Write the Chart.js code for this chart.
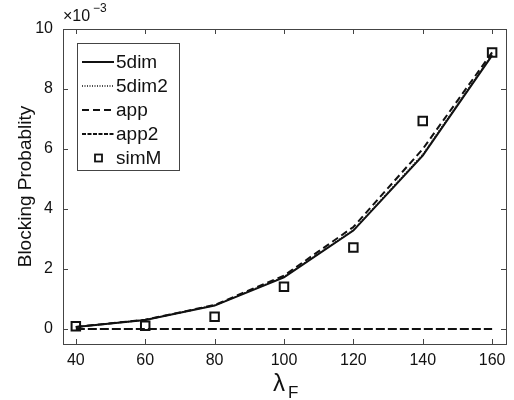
<!DOCTYPE html>
<html>
<head>
<meta charset="utf-8">
<script src="https://cdn.jsdelivr.net/npm/chart.js@4.4.1/dist/chart.umd.min.js"></script>
<style>
  html, body { margin: 0; padding: 0; background: #fff; }
  #wrap { width: 514px; height: 400px; }
</style>
</head>
<body>
<div id="wrap"><canvas id="blockChart"></canvas></div>
<script>
// x values (lambda_F) and blocking probability in units of 1e-3
const lambdaF = [40, 60, 80, 100, 120, 140, 160];
const fiveDim = [0.07, 0.30, 0.78, 1.72, 3.28, 5.78, 9.12];
const fiveDim2 = [0.07, 0.30, 0.79, 1.74, 3.30, 5.82, 9.15];
const app = [0.07, 0.31, 0.80, 1.78, 3.40, 6.00, 9.22];
const app2 = [0, 0, 0, 0, 0, 0, 0];
const simM = [0.09, 0.11, 0.41, 1.41, 2.72, 6.93, 9.22];

const xTicks = [40, 60, 80, 100, 120, 140, 160];
const yTicks = [0, 2, 4, 6, 8, 10];

const FONT = "'Liberation Sans', Arial, sans-serif";
const INK = '#111';

function toPoints(ys) {
  return lambdaF.map((x, i) => ({ x: x, y: ys[i] }));
}

function lineSet(label, ys, dash, width) {
  return {
    label: label,
    data: toPoints(ys),
    borderColor: INK,
    borderWidth: width,
    borderDash: dash,
    pointRadius: 0,
    fill: false,
    tension: 0
  };
}

// ticks inside the frame on all four sides, like the original plot
const insideTicks = {
  id: 'insideTicks',
  afterDatasetsDraw(chart) {
    const { ctx, chartArea: a, scales } = chart;
    const len = 5;
    ctx.save();
    ctx.strokeStyle = '#444';
    ctx.lineWidth = 1;
    ctx.beginPath();
    xTicks.forEach(v => {
      const px = Math.round(scales.x.getPixelForValue(v)) + 0.5;
      ctx.moveTo(px, a.bottom); ctx.lineTo(px, a.bottom - len);
      ctx.moveTo(px, a.top); ctx.lineTo(px, a.top + len);
    });
    yTicks.forEach(v => {
      const py = Math.round(scales.y.getPixelForValue(v)) + 0.5;
      ctx.moveTo(a.left, py); ctx.lineTo(a.left + len, py);
      ctx.moveTo(a.right, py); ctx.lineTo(a.right - len, py);
    });
    ctx.stroke();
    ctx.strokeRect(Math.round(a.left) + 0.5, Math.round(a.top) + 0.5,
      Math.round(a.right - a.left), Math.round(a.bottom - a.top));
    ctx.restore();
  }
};

// axis texts: exponent, lambda_F, legend box
const annotations = {
  id: 'annotations',
  afterDraw(chart) {
    const { ctx, chartArea: a } = chart;
    ctx.save();
    ctx.fillStyle = INK;
    ctx.textBaseline = 'alphabetic';

    // x10^-3
    ctx.font = '16px ' + FONT;
    ctx.textAlign = 'left';
    ctx.fillText('\u00d710', a.left, a.top - 8);
    ctx.font = '12px ' + FONT;
    ctx.fillText('\u22123', a.left + 30, a.top - 17);

    // lambda_F
    ctx.font = '24px ' + FONT;
    ctx.fillText('\u03bb', 273, 391);
    ctx.font = '17px ' + FONT;
    ctx.fillText('F', 288, 398);

    // legend
    const lx = 77, ly = 43, lw = 102, lh = 127;
    ctx.fillStyle = '#fff';
    ctx.fillRect(lx, ly, lw, lh);
    ctx.strokeStyle = '#444';
    ctx.lineWidth = 1;
    ctx.strokeRect(lx + 0.5, ly + 0.5, lw, lh);
    ctx.font = '19px ' + FONT;
    ctx.textBaseline = 'middle';
    chart.data.datasets.forEach((ds, i) => {
      const y = ly + 19 + i * 24;
      ctx.strokeStyle = INK;
      if (ds.showLine === false) {
        ctx.lineWidth = 1.8;
        ctx.setLineDash([]);
        ctx.strokeRect(95, y - 3.5, 7, 7);
      } else {
        ctx.lineWidth = ds.borderWidth;
        ctx.setLineDash(ds.legendDash || ds.borderDash || []);
        ctx.beginPath();
        ctx.moveTo(82, y);
        ctx.lineTo(114, y);
        ctx.stroke();
      }
      ctx.setLineDash([]);
      ctx.fillStyle = INK;
      ctx.fillText(ds.label, 116, y + 1);
    });
    ctx.restore();
  }
};

const app2Set = lineSet('app2', app2, [9, 3], 2);
app2Set.legendDash = [4, 1.5];

new Chart(document.getElementById('blockChart'), {
  type: 'line',
  data: {
    datasets: [
      lineSet('5dim', fiveDim, [], 2),
      lineSet('5dim2', fiveDim2, [1, 1.5], 1.5),
      lineSet('app', app, [7, 4], 2),
      app2Set,
      {
        label: 'simM',
        data: toPoints(simM),
        showLine: false,
        pointStyle: 'rect',
        pointRadius: 6,
        pointBorderWidth: 2,
        pointBorderColor: INK,
        pointBackgroundColor: 'rgba(0,0,0,0)',
        borderColor: INK
      }
    ]
  },
  options: {
    responsive: true,
    maintainAspectRatio: false,
    animation: false,
    layout: { padding: { top: 29, right: 7, bottom: 0, left: 0 } },
    plugins: {
      legend: { display: false },
      tooltip: { enabled: false }
    },
    scales: {
      x: {
        type: 'linear',
        min: 36.3,
        max: 164,
        afterBuildTicks: axis => { axis.ticks = xTicks.map(v => ({ value: v })); },
        afterFit: axis => { axis.height = 56; },
        grid: { display: false, drawTicks: false },
        border: { display: false },
        ticks: {
          color: INK,
          font: { family: FONT, size: 16 },
          padding: 7,
          maxRotation: 0
        }
      },
      y: {
        min: -0.5,
        max: 10,
        afterBuildTicks: axis => { axis.ticks = yTicks.map(v => ({ value: v })); },
        afterFit: axis => { axis.width = 63; },
        grid: { display: false, drawTicks: false },
        border: { display: false },
        ticks: {
          color: INK,
          font: { family: FONT, size: 16 },
          padding: 10
        },
        title: {
          display: true,
          text: 'Blocking Probablity',
          color: INK,
          font: { family: FONT, size: 19 },
          padding: { top: 14, bottom: 0 }
        }
      }
    }
  },
  plugins: [insideTicks, annotations]
});
</script>
</body>
</html>
